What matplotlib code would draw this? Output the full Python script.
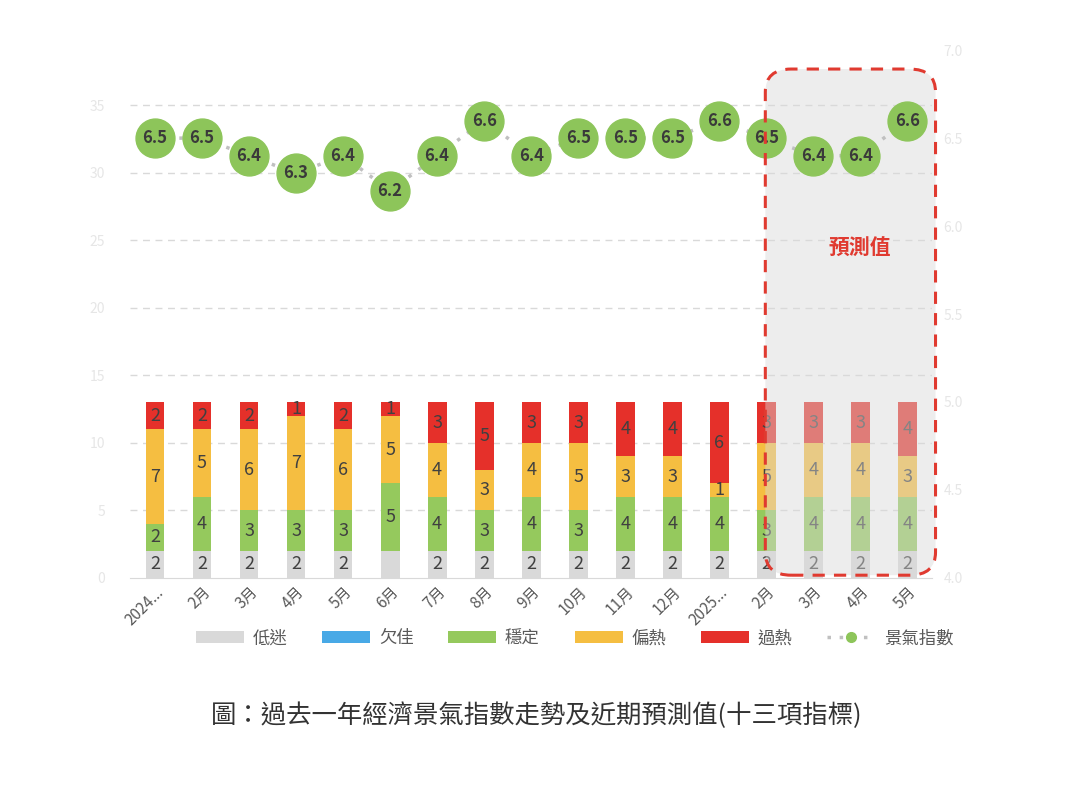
import matplotlib
matplotlib.use("Agg")
import matplotlib.pyplot as plt
from matplotlib.patches import FancyBboxPatch, Patch
from matplotlib.lines import Line2D
import numpy as np

plt.rcParams['font.family'] = ['Noto Sans CJK TC', 'DejaVu Sans']

categories = ["2024...", "2月", "3月", "4月", "5月", "6月", "7月", "8月", "9月",
              "10月", "11月", "12月", "2025...", "2月", "3月", "4月", "5月"]
low = [2, 2, 2, 2, 2, 2, 2, 2, 2, 2, 2, 2, 2, 2, 2, 2, 2]       # 低迷
weak = [0, 0, 0, 0, 0, 0, 0, 0, 0, 0, 0, 0, 0, 0, 0, 0, 0]      # 欠佳
stable = [2, 4, 3, 3, 3, 5, 4, 3, 4, 3, 4, 4, 4, 3, 4, 4, 4]    # 穩定
warm = [7, 5, 6, 7, 6, 5, 4, 3, 4, 5, 3, 3, 1, 5, 4, 4, 3]      # 偏熱
hot = [2, 2, 2, 1, 2, 1, 3, 5, 3, 3, 4, 4, 6, 3, 3, 3, 4]       # 過熱
index = [6.5, 6.5, 6.4, 6.3, 6.4, 6.2, 6.4, 6.6, 6.4, 6.5, 6.5, 6.5, 6.6,
         6.5, 6.4, 6.4, 6.6]
series_names = ["低迷", "欠佳", "穩定", "偏熱", "過熱"]
line_name = "景氣指數"
forecast_label = "預測值"
caption = "圖：過去一年經濟景氣指數走勢及近期預測值(十三項指標)"
left_ticks = [0, 5, 10, 15, 20, 25, 30, 35]
right_ticks = [4.0, 4.5, 5.0, 5.5, 6.0, 6.5, 7.0]

colors = ["#d9d9d9", "#48a9e6", "#95c95d", "#f5be41", "#e5302a"]

fig = plt.figure(figsize=(10.84, 7.96), dpi=100)
ax = fig.add_axes([0.12, 0.274, 0.74, 0.663])
x = np.arange(len(categories))
width = 0.4
bottom = np.zeros(len(categories))
series = [low, weak, stable, warm, hot]
for si, (vals, col) in enumerate(zip(series, colors)):
    vals = np.array(vals, dtype=float)
    ax.bar(x, vals, width, bottom=bottom, color=col, zorder=2)
    for i, v in enumerate(vals):
        if v > 0 and not (si == 0 and i == 5):
            ax.text(x[i], bottom[i] + v / 2, f"{int(v)}", ha="center", va="center",
                    fontsize=13, color="#404040", zorder=3)
    bottom += vals

ax.set_xlim(-0.53, 16.53)
ax.set_ylim(0, 39.1)
ax.set_yticks(left_ticks)
ax.tick_params(axis="y", colors="#e6e6e6", length=0, labelsize=10, pad=18)
ax.tick_params(axis="x", length=0, labelsize=11, labelcolor="#595959", pad=4)
ax.set_xticks(x)
ax.set_xticklabels(categories, rotation=45, ha="right", rotation_mode="anchor")
for t in ax.get_yticks():
    if t > 0:
        ax.axhline(t, color="#d9d9d9", lw=1, ls=(0, (5, 4)), zorder=1)
for s in ["top", "right", "left"]:
    ax.spines[s].set_visible(False)
ax.spines["bottom"].set_color("#d9d9d9")

ax2 = ax.twinx()
ax2.set_ylim(4.0, 7.0)
ax2.set_yticks(right_ticks)
ax2.set_yticklabels([f"{v:.1f}" for v in right_ticks])
ax2.tick_params(axis="y", colors="#e6e6e6", length=0, labelsize=10, pad=8)
for s in ["top", "right", "left", "bottom"]:
    ax2.spines[s].set_visible(False)
ax2.plot(x, index, color="#c0c0c0", lw=2.5, ls=(0, (1, 2.5)), marker="o",
         markersize=28, markerfacecolor="#8dc55a", markeredgecolor="#8dc55a", zorder=3)
for i, v in enumerate(index):
    ax2.text(x[i], v, f"{v:.1f}", ha="center", va="center", fontsize=12,
             fontweight="bold", color="#3a3a3a", zorder=4)

# forecast box (drawn on top axes, positioned in bar-axis data coords)
for fc, ec in [("#d9d9d9", "none"), ("none", "#e03a30")]:
    p = FancyBboxPatch((12.98, 0.2), 3.62, 37.5,
                       boxstyle="round,pad=0,rounding_size=0.55",
                       transform=ax.transData, facecolor=fc,
                       alpha=0.45 if ec == "none" else 1.0,
                       edgecolor=ec, lw=2.2, ls=(0, (4, 3)), clip_on=False,
                       zorder=2 if ec == "none" else 6,
                       mutation_aspect=37.5 / 3.62 * 0.3)
    ax2.add_patch(p)
ax2.text(15.0, 24.4, forecast_label, transform=ax.transData, color="#e03a30",
         fontsize=15, fontweight="bold", ha="center", va="center", zorder=7)

handles = [Patch(facecolor=c, edgecolor="none") for c in colors]
handles.append(Line2D([0], [0], color="#c0c0c0", lw=2.5, ls=(0, (1, 2.5)), marker="o",
                      markersize=7, markerfacecolor="#8dc55a", markeredgecolor="#8dc55a"))
leg = fig.legend(handles, series_names + [line_name], loc="center",
                 bbox_to_anchor=(0.530, 0.198), ncol=6, frameon=False, fontsize=12.5,
                 handlelength=2.77, handleheight=0.7, columnspacing=2.0, handletextpad=0.5)
for t in leg.get_texts():
    t.set_color("#595959")

fig.text(0.495, 0.101, caption, ha="center", va="center", fontsize=18.3, color="#333333")

fig.savefig("out.png", dpi=100, facecolor="white")
